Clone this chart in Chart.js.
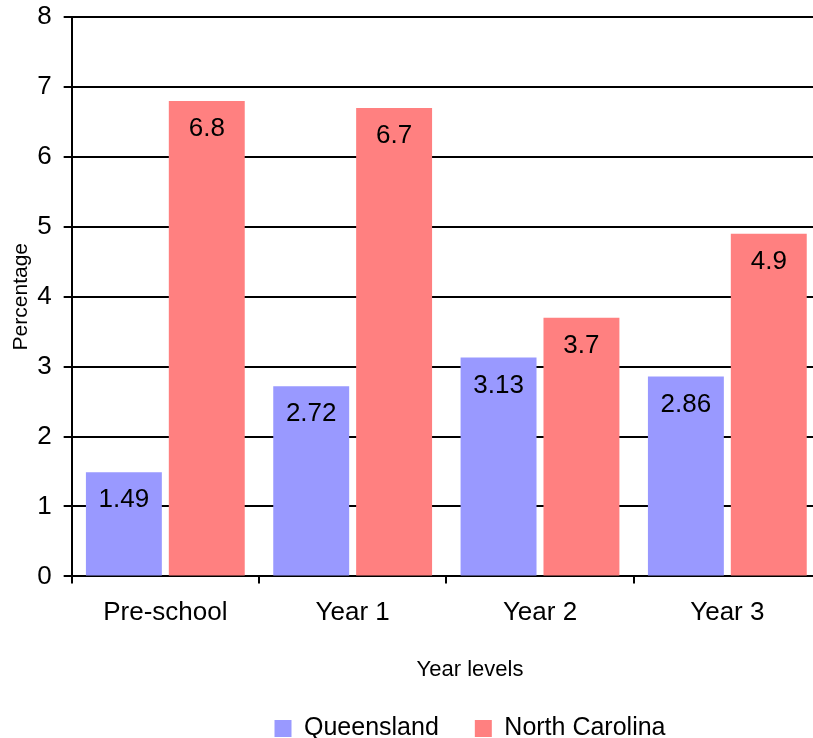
<!DOCTYPE html>
<html>
<head>
<meta charset="utf-8">
<script src="https://cdn.jsdelivr.net/npm/chart.js@4/dist/chart.umd.min.js"></script>
<style>
  html, body { margin: 0; padding: 0; background: #fff; overflow: hidden; }
  #wrap { width: 940px; height: 738px; }
</style>
</head>
<body>
<div id="wrap"><canvas id="c" width="940" height="738"></canvas></div>
<script>
// Share of children by year level, two regions
const categories = ['Pre-school', 'Year 1', 'Year 2', 'Year 3'];
const queensland = [1.49, 2.72, 3.13, 2.86];
const northCarolina = [6.8, 6.7, 3.7, 4.9];
const seriesNames = ['Queensland', 'North Carolina'];
const yTicks = [0, 1, 2, 3, 4, 5, 6, 7, 8];

const FONT = "'Liberation Sans', Arial, sans-serif";

// Value printed inside each bar, just below its top edge
const barValueLabels = {
  id: 'barValueLabels',
  afterDatasetsDraw(chart) {
    const ctx = chart.ctx;
    ctx.save();
    ctx.font = '26px ' + FONT;
    ctx.fillStyle = '#000';
    ctx.textAlign = 'center';
    ctx.textBaseline = 'middle';
    chart.data.datasets.forEach((ds, i) => {
      chart.getDatasetMeta(i).data.forEach((bar, j) => {
        ctx.fillText(String(ds.data[j]), bar.x, bar.y + 28);
      });
    });
    ctx.restore();
  }
};

// Empty box on the right of the plot so the plot runs past the visible edge
// while the title and legend stay centred on the whole canvas
const rightGutter = {
  id: 'rightGutter',
  beforeInit(chart) {
    Chart.layouts.addBox(chart, {
      position: 'right',
      weight: 0,
      fullSize: false,
      options: {},
      width: 0,
      height: 0,
      isHorizontal() { return false; },
      update(maxWidth, maxHeight) { this.width = 119; this.height = maxHeight; },
      draw() {}
    });
  }
};

new Chart(document.getElementById('c'), {
  type: 'bar',
  data: {
    labels: categories,
    datasets: [
      { label: seriesNames[0], data: queensland, backgroundColor: '#9999FF', borderWidth: 0 },
      { label: seriesNames[1], data: northCarolina, backgroundColor: '#FF8080', borderWidth: 0 }
    ]
  },
  options: {
    responsive: false,
    devicePixelRatio: 1,
    animation: false,
    layout: { padding: { top: 0, right: 0, left: 0, bottom: -13 } },
    categoryPercentage: 0.885,
    barPercentage: 0.916,
    plugins: {
      tooltip: { enabled: false },
      title: {
        display: true,
        position: 'bottom',
        text: 'Year levels',
        color: '#000',
        font: { family: FONT, size: 22, weight: 'normal' },
        padding: { top: 14, bottom: -3 },
        weight: 500
      },
      legend: {
        position: 'bottom',
        weight: 1000,
        labels: {
          color: '#000',
          font: { family: FONT, size: 25 },
          boxWidth: 17,
          boxHeight: 17,
          padding: 36
        }
      }
    },
    scales: {
      x: {
        grid: {
          offset: true,
          drawOnChartArea: false,
          color: '#000',
          lineWidth: 2,
          tickLength: 7
        },
        border: { color: '#000', width: 2 },
        ticks: {
          color: '#000',
          font: { family: FONT, size: 26 },
          padding: 14
        }
      },
      y: {
        min: 0,
        max: 8,
        afterBuildTicks(axis) { axis.ticks = yTicks.map(v => ({ value: v })); },
        // keep only enough room above the plot for the top tick label
        afterFit(axis) { axis.paddingTop = 17; },
        grid: { color: '#000', lineWidth: 2, tickLength: 8 },
        border: { color: '#000', width: 2 },
        ticks: {
          color: '#000',
          font: { family: FONT, size: 26 },
          padding: 12
        },
        title: {
          display: true,
          text: 'Percentage',
          color: '#000',
          font: { family: FONT, size: 21 },
          padding: { top: 9, bottom: -9 }
        }
      }
    }
  },
  plugins: [barValueLabels, rightGutter]
});
</script>
</body>
</html>
